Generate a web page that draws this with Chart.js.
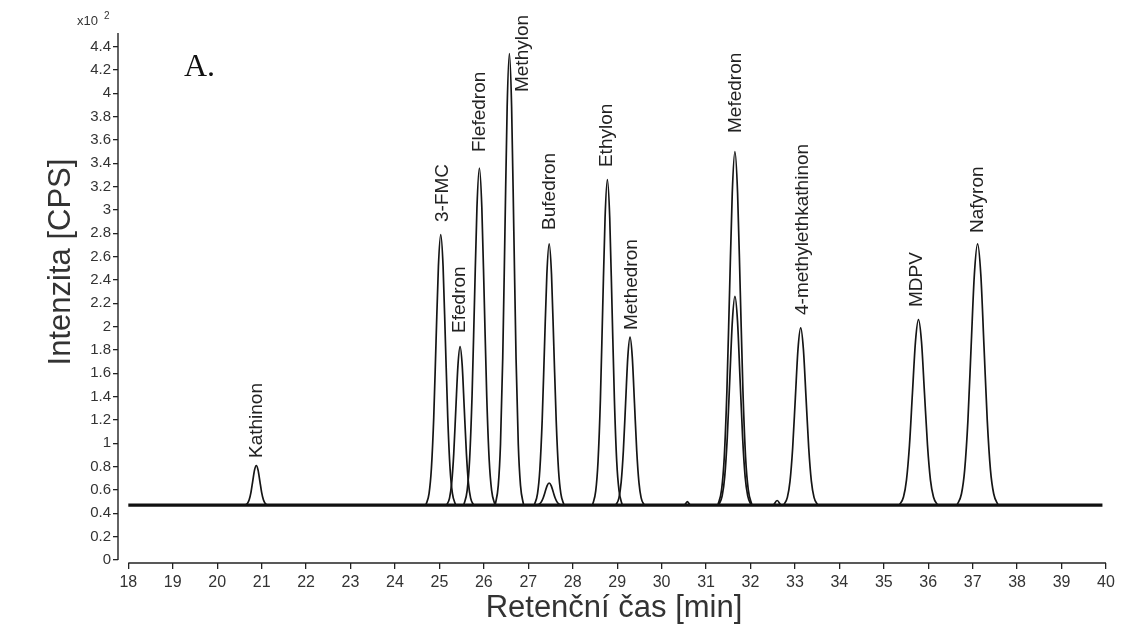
<!DOCTYPE html>
<html><head><meta charset="utf-8">
<script src="https://cdn.jsdelivr.net/npm/chart.js@4.4.1/dist/chart.umd.min.js"></script>
<style>html,body{margin:0;padding:0;background:#fff;}canvas{display:block;}</style>
</head><body>
<canvas id="c" width="1121" height="635"></canvas>
<script>
// ---- tick labels ----
const xTickValues = [18,19,20,21,22,23,24,25,26,27,28,29,30,31,32,33,34,35,36,37,38,39,40];
const yTickValues = [0,0.2,0.4,0.6,0.8,1,1.2,1.4,1.6,1.8,2,2.2,2.4,2.6,2.8,3,3.2,3.4,3.6,3.8,4,4.2,4.4];

// ---- traces (time [min], intensity x10^2 CPS) ----
const baselineTime = [18.0, 39.92];
const baselineIntensity = [0.47, 0.47];
const kathinonTime = [20.624,20.68,20.72,20.76,20.80,20.84,20.88,20.92,20.96,21.00,21.04,21.08,21.136];
const kathinonIntensity = [0.47,0.485,0.516,0.580,0.676,0.770,0.81,0.770,0.676,0.580,0.516,0.485,0.47];
const fmcTime = [24.694,24.768,24.82,24.873,24.925,24.978,25.03,25.083,25.135,25.188,25.24,25.293,25.366];
const fmcIntensity = [0.47,0.572,0.784,1.223,1.877,2.517,2.79,2.517,1.877,1.223,0.784,0.572,0.47];
const efedronTime = [25.161,25.228,25.275,25.323,25.37,25.418,25.465,25.513,25.56,25.608,25.655,25.703,25.769];
const efedronIntensity = [0.47,0.530,0.654,0.912,1.295,1.670,1.83,1.670,1.295,0.912,0.654,0.530,0.47];
const flefedronTime = [25.548,25.625,25.68,25.735,25.79,25.845,25.90,25.955,26.01,26.065,26.12,26.175,26.252];
const flefedronIntensity = [0.47,0.597,0.861,1.408,2.223,3.020,3.36,3.020,2.223,1.408,0.861,0.597,0.47];
const methylonTime = [26.255,26.325,26.375,26.425,26.475,26.525,26.575,26.625,26.675,26.725,26.775,26.825,26.895];
const methylonIntensity = [0.47,0.640,0.994,1.727,2.817,3.885,4.34,3.885,2.817,1.727,0.994,0.640,0.47];
const bufedronTime = [27.134,27.208,27.26,27.313,27.365,27.418,27.47,27.523,27.575,27.628,27.68,27.733,27.806];
const bufedronIntensity = [0.47,0.568,0.773,1.197,1.829,2.447,2.71,2.447,1.829,1.197,0.773,0.568,0.47];
const bufedronMinorTime = [27.182,27.245,27.29,27.335,27.38,27.425,27.47,27.515,27.56,27.605,27.65,27.695,27.758];
const bufedronMinorIntensity = [0.47,0.478,0.496,0.532,0.585,0.638,0.66,0.638,0.585,0.532,0.496,0.478,0.47];
const ethylonTime = [28.444,28.518,28.57,28.623,28.675,28.728,28.78,28.833,28.885,28.938,28.99,29.043,29.116];
const ethylonIntensity = [0.47,0.592,0.847,1.376,2.162,2.932,3.26,2.932,2.162,1.376,0.847,0.592,0.47];
const methedronTime = [28.97,29.04,29.09,29.14,29.19,29.24,29.29,29.34,29.39,29.44,29.49,29.54,29.61];
const methedronIntensity = [0.47,0.533,0.665,0.938,1.343,1.741,1.91,1.741,1.343,0.938,0.665,0.533,0.47];
const blip1Time = [30.52,30.58,30.64];
const blip1Intensity = [0.47,0.50,0.47];
const mefedronTime = [31.266,31.35,31.41,31.47,31.53,31.59,31.65,31.71,31.77,31.83,31.89,31.95,32.034];
const mefedronIntensity = [0.47,0.603,0.880,1.454,2.308,3.144,3.50,3.144,2.308,1.454,0.880,0.603,0.47];
const mefedronMinorTime = [31.282,31.363,31.42,31.478,31.535,31.593,31.65,31.708,31.765,31.823,31.88,31.938,32.018];
const mefedronMinorIntensity = [0.47,0.549,0.712,1.051,1.556,2.050,2.26,2.050,1.556,1.051,0.712,0.549,0.47];
const blip2Time = [32.52,32.60,32.68];
const blip2Intensity = [0.47,0.51,0.47];
const mekTime = [32.746,32.83,32.89,32.95,33.01,33.07,33.13,33.19,33.25,33.31,33.37,33.43,33.514];
const mekIntensity = [0.47,0.537,0.676,0.964,1.392,1.811,1.99,1.811,1.392,0.964,0.676,0.537,0.47];
const mdpvTime = [35.348,35.443,35.51,35.578,35.645,35.713,35.78,35.848,35.915,35.983,36.05,36.118,36.212];
const mdpvIntensity = [0.47,0.540,0.685,0.986,1.434,1.873,2.06,1.873,1.434,0.986,0.685,0.540,0.47];
const nafyronTime = [36.646,36.748,36.82,36.893,36.965,37.038,37.11,37.183,37.255,37.328,37.40,37.473,37.574];
const nafyronIntensity = [0.47,0.568,0.773,1.197,1.829,2.447,2.71,2.447,1.829,1.197,0.773,0.568,0.47];

// ---- peak annotations ----
const peakLabels = ['Kathinon','3-FMC','Efedron','Flefedron','Methylon','Bufedron','Ethylon','Methedron','Mefedron','4-methylethkathinon','MDPV','Nafyron'];
const peakLabelTime = [20.89,25.075,25.464,25.898,26.88,27.474,28.765,29.327,31.674,33.175,35.74,37.113];
const peakLabelIntensity = [0.874,2.897,1.946,3.497,4.011,2.829,3.368,1.971,3.66,2.1,2.168,2.803];

const traces = [
  [kathinonTime,kathinonIntensity],[fmcTime,fmcIntensity],[efedronTime,efedronIntensity],
  [flefedronTime,flefedronIntensity],[methylonTime,methylonIntensity],[bufedronTime,bufedronIntensity],
  [bufedronMinorTime,bufedronMinorIntensity],[ethylonTime,ethylonIntensity],[methedronTime,methedronIntensity],
  [blip1Time,blip1Intensity],[mefedronTime,mefedronIntensity],[mefedronMinorTime,mefedronMinorIntensity],
  [blip2Time,blip2Intensity],[mekTime,mekIntensity],[mdpvTime,mdpvIntensity],[nafyronTime,nafyronIntensity]
];
const toXY = (t,v) => t.map((x,i)=>({x:x,y:v[i]}));

const datasets = [{
  data: toXY(baselineTime, baselineIntensity),
  borderColor:'#111', borderWidth:3.2, pointRadius:0, tension:0
}].concat(traces.map(tr=>({
  data: toXY(tr[0], tr[1]),
  borderColor:'#151515', borderWidth:1.7, pointRadius:0, cubicInterpolationMode:'monotone'
})));

const FONT = '"Liberation Sans", Arial, sans-serif';
Chart.defaults.font.family = FONT;

const decor = {
  id:'decor',
  afterDraw(chart){
    const {ctx, chartArea:a, scales:{x,y}} = chart;
    ctx.save();
    ctx.strokeStyle='#222'; ctx.lineWidth=1.4;
    ctx.beginPath(); ctx.moveTo(a.left, y.getPixelForValue(0)); ctx.lineTo(a.left, a.top); ctx.stroke();
    ctx.beginPath(); ctx.moveTo(x.getPixelForValue(xTickValues[0]), a.bottom);
    ctx.lineTo(x.getPixelForValue(xTickValues[xTickValues.length-1]), a.bottom); ctx.stroke();
    // peak labels
    ctx.fillStyle='#222'; ctx.font='19px '+FONT; ctx.textAlign='left'; ctx.textBaseline='middle';
    peakLabels.forEach((n,i)=>{
      ctx.save();
      ctx.translate(x.getPixelForValue(peakLabelTime[i]), y.getPixelForValue(peakLabelIntensity[i]));
      ctx.rotate(-Math.PI/2);
      ctx.fillText(n,0,0);
      ctx.restore();
    });
    // axis titles
    ctx.fillStyle='#333';
    ctx.font='31px '+FONT; ctx.textAlign='center'; ctx.textBaseline='middle';
    ctx.fillText('Retenční čas [min]', 614, 608);
    ctx.save(); ctx.translate(61, 262); ctx.rotate(-Math.PI/2);
    ctx.fillText('Intenzita [CPS]', 0, 0); ctx.restore();
    // multiplier
    ctx.font='13px '+FONT; ctx.textAlign='left'; ctx.textBaseline='alphabetic';
    ctx.fillText('x10', 77, 25);
    ctx.font='10px '+FONT; ctx.fillText('2', 104, 19);
    // panel letter
    ctx.fillStyle='#111';
    ctx.font='32px "Liberation Serif", "Times New Roman", serif';
    ctx.fillText('A.', 184, 76);
    ctx.restore();
  }
};

new Chart(document.getElementById('c'), {
  type:'line',
  data:{datasets},
  options:{
    responsive:false, animation:false, devicePixelRatio:1,
    layout:{padding:{top:33,right:15,left:0,bottom:0}},
    plugins:{legend:{display:false}, tooltip:{enabled:false}},
    scales:{
      x:{type:'linear', min:17.768, max:40,
        afterBuildTicks:s=>{s.ticks = xTickValues.map(v=>({value:v}));},
        afterFit:s=>{s.height=72;},
        border:{display:false},
        grid:{drawOnChartArea:false, drawTicks:true, tickLength:6, color:'#222', lineWidth:1.3},
        ticks:{color:'#333', font:{size:16}, padding:4, maxRotation:0, autoSkip:false, callback:v=>String(v)}
      },
      y:{type:'linear', min:-0.0257, max:4.517,
        afterBuildTicks:s=>{s.ticks = yTickValues.map(v=>({value:v}));},
        afterFit:s=>{s.width=118;},
        border:{display:false},
        grid:{drawOnChartArea:false, drawTicks:true, tickLength:5, color:'#222', lineWidth:1.3},
        ticks:{color:'#333', font:{size:15}, padding:2, autoSkip:false, callback:v=>String(Math.round(v*10)/10)}
      }
    }
  },
  plugins:[decor]
});
</script>
</body></html>
